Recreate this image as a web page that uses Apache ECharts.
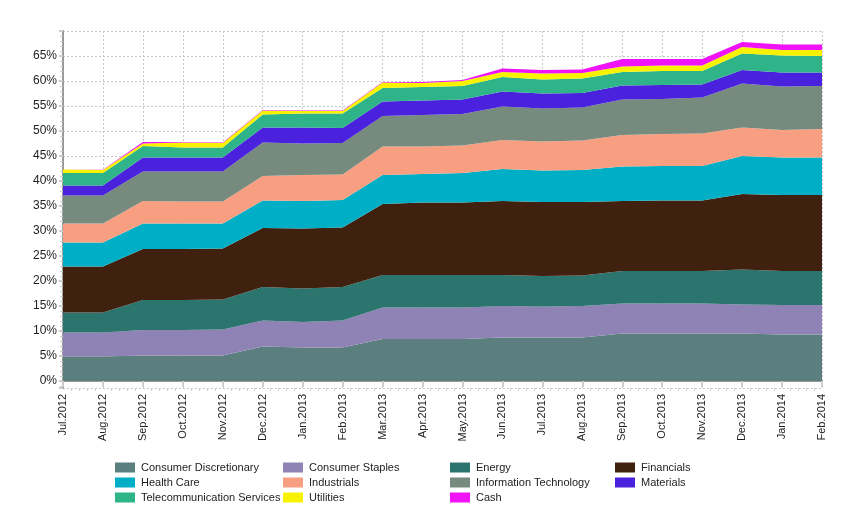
<!DOCTYPE html>
<html>
<head>
<meta charset="utf-8">
<script src="https://cdn.jsdelivr.net/npm/echarts@6/dist/echarts.min.js"></script>
<style>html,body{margin:0;padding:0;background:#fff}#c{width:852px;height:520px}</style>
</head>
<body>
<div id="c"></div>
<script>
var months = ['Jul.2012','Aug.2012','Sep.2012','Oct.2012','Nov.2012','Dec.2012','Jan.2013','Feb.2013','Mar.2013','Apr.2013','May.2013','Jun.2013','Jul.2013','Aug.2013','Sep.2013','Oct.2013','Nov.2013','Dec.2013','Jan.2014','Feb.2014'];
var consumerDiscretionary = [4.9,4.9,5.1,5.1,5.1,6.9,6.7,6.7,8.4,8.4,8.4,8.7,8.7,8.7,9.5,9.5,9.5,9.5,9.3,9.3];
var consumerStaples       = [4.8,4.8,5.1,5.1,5.2,5.2,5.1,5.4,6.3,6.3,6.3,6.3,6.2,6.3,6.0,6.0,6.0,5.8,5.9,5.9];
var energy                = [4.0,4.0,6.0,6.0,6.0,6.7,6.7,6.7,6.5,6.5,6.5,6.2,6.1,6.1,6.5,6.5,6.5,7.0,6.8,6.8];
var financials            = [9.2,9.2,10.2,10.2,10.2,11.8,12.0,11.9,14.2,14.5,14.5,14.8,14.8,14.7,14.0,14.1,14.1,15.1,15.2,15.2];
var healthCare            = [4.8,4.8,5.1,5.1,5.0,5.5,5.5,5.5,5.8,5.7,5.9,6.4,6.3,6.4,6.9,6.9,6.9,7.6,7.5,7.5];
var industrials           = [3.8,3.8,4.5,4.4,4.4,4.9,5.2,5.1,5.7,5.5,5.5,5.8,5.8,5.9,6.3,6.4,6.5,5.7,5.5,5.7];
var infoTech              = [5.6,5.6,5.9,6.0,6.0,6.7,6.3,6.3,6.1,6.3,6.3,6.7,6.6,6.6,7.1,7.0,7.2,8.8,8.7,8.6];
var materials             = [2.0,2.0,2.8,2.8,2.8,3.0,3.2,3.0,2.9,2.9,2.9,3.0,3.0,2.9,2.8,2.8,2.6,2.7,2.8,2.7];
var telecom               = [2.5,2.5,2.3,2.0,2.0,2.6,2.8,2.9,2.7,2.7,2.7,2.9,2.8,2.9,2.7,2.8,2.7,3.3,3.4,3.3];
var utilities             = [0.7,0.6,0.5,1.0,0.9,0.8,0.5,0.5,1.1,0.8,1.0,1.0,1.2,1.1,1.1,1.1,1.1,1.3,1.1,1.2];
var cash                  = [0.0,0.05,0.3,0.1,0.1,0.1,0.1,0.1,0.1,0.2,0.2,0.7,0.7,0.7,1.5,1.3,1.3,1.0,1.1,1.1];
var yTickLabels = ['0%','5%','10%','15%','20%','25%','30%','35%','40%','45%','50%','55%','60%','65%'];

var seriesDefs = [
  ['Consumer Discretionary', consumerDiscretionary, '#5a7f7e'],
  ['Consumer Staples', consumerStaples, '#8f82b4'],
  ['Energy', energy, '#2b756e'],
  ['Financials', financials, '#40200f'],
  ['Health Care', healthCare, '#00afc5'],
  ['Industrials', industrials, '#f89f82'],
  ['Information Technology', infoTech, '#768b7d'],
  ['Materials', materials, '#4a22dd'],
  ['Telecommunication Services', telecom, '#2fb489'],
  ['Utilities', utilities, '#f8f200'],
  ['Cash', cash, '#f013f7']
];

var series = seriesDefs.map(function(d){
  return {
    name: d[0], type: 'line', stack: 'total', symbol: 'none', silent: true,
    xAxisIndex: 0, yAxisIndex: 0,
    data: d[1],
    lineStyle: {width: 0},
    itemStyle: {color: d[2]},
    areaStyle: {color: d[2], opacity: 1}
  };
});

var legendCols = [
  ['Consumer Discretionary','Health Care','Telecommunication Services'],
  ['Consumer Staples','Industrials','Utilities'],
  ['Energy','Information Technology','Cash'],
  ['Financials','Materials']
];
var legendLeft = [115, 283, 450, 615];
var legends = legendCols.map(function(col, k){
  return {
    data: col, orient: 'vertical', left: legendLeft[k], top: 462,
    padding: 0, itemGap: 4, itemWidth: 20, itemHeight: 10, icon: 'rect',
    selectedMode: false,
    textStyle: {fontFamily: 'Liberation Sans, Arial, sans-serif', fontSize: 11, color: '#222', padding: [0,0,0,1]}
  };
});

var chart = echarts.init(document.getElementById('c'), null, {renderer: 'canvas'});
chart.setOption({
  animation: false,
  backgroundColor: '#fff',
  legend: legends,
  grid: {left: 63, right: 30, top: 31, bottom: 132, containLabel: false},
  xAxis: [{
    type: 'category', data: months, boundaryGap: false,
    axisLine: {show: true, lineStyle: {color: '#999', width: 2}},
    axisTick: {show: true, length: 6, lineStyle: {color: '#ccc', width: 2}},
    splitLine: {show: true, lineStyle: {color: '#c8c8c8', width: 1, type: [2,2]}},
    axisLabel: {
      rotate: 90, margin: 6, color: '#222', fontSize: 11, interval: 0,
      fontFamily: 'Liberation Sans, Arial, sans-serif'
    }
  }, {
    type: 'value', min: 0, max: months.length - 1, interval: 1, position: 'bottom',
    axisLine: {show: false},
    axisTick: {show: false},
    minorTick: {show: true, splitNumber: 5, length: 3, lineStyle: {color: '#ccc', width: 1}},
    splitLine: {show: false},
    axisLabel: {show: false}
  }],
  yAxis: {
    type: 'value', min: -1.4, max: 70, splitNumber: 14,
    axisLine: {show: true, lineStyle: {color: '#999', width: 2}},
    axisTick: {show: true, length: 4, lineStyle: {color: '#ccc', width: 2}},
    minorTick: {show: true, splitNumber: 5, length: 3, lineStyle: {color: '#ccc', width: 1}},
    splitLine: {show: true, lineStyle: {color: '#c8c8c8', width: 1, type: [2,2]}},
    axisLabel: {
      margin: 6, color: '#222', fontSize: 12,
      fontFamily: 'Liberation Sans, Arial, sans-serif',
      showMinLabel: false, showMaxLabel: false,
      formatter: function(v){
        if (v < 0 || v > 66) return '';
        var idx = Math.round(v / 5);
        return Math.abs(v - idx*5) < 0.01 ? (yTickLabels[idx] || '') : '';
      }
    }
  },
  series: series
});
</script>
</body>
</html>
